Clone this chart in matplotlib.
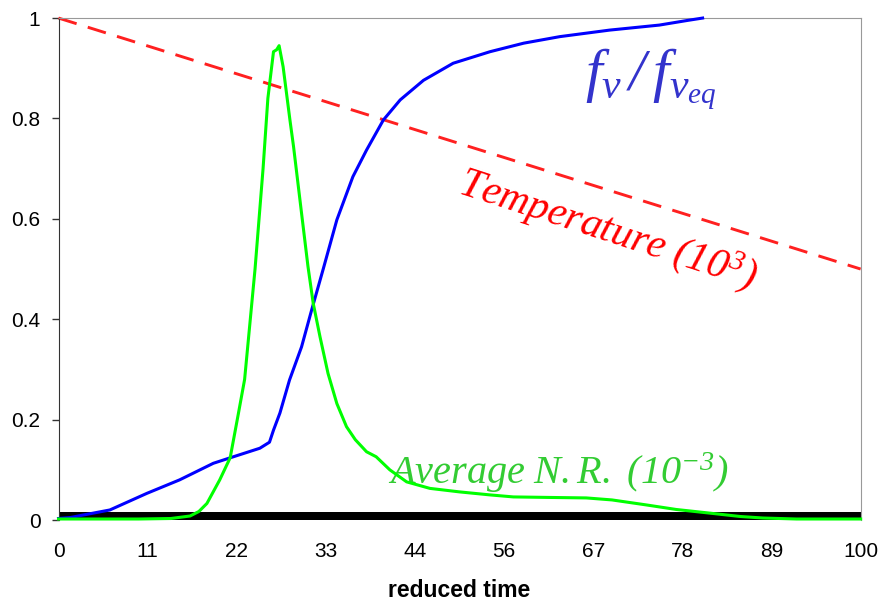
"""Reduced-time evolution of f_v/f_veq, temperature and average N.R."""
import numpy as np
import matplotlib
matplotlib.use("Agg")
import matplotlib.pyplot as plt

# --- data ------------------------------------------------------------------ #
TIME_TICKS = np.linspace(0, 100, 10)

FV_T = [0, 1.5, 3.1, 6.4, 11.0, 15.1, 19.3, 21.8, 25.1, 26.3, 26.8, 27.6, 28.8,
        30.3, 31.55, 33.0, 34.7, 36.7, 38.4, 40.5, 42.6, 45.5, 49.2, 53.8, 58.0,
        62.5, 68.7, 74.9, 78.3, 80.3]
FV = [0.003, 0.005, 0.010, 0.020, 0.053, 0.080, 0.113, 0.126, 0.143, 0.155,
      0.179, 0.213, 0.279, 0.345, 0.418, 0.500, 0.598, 0.684, 0.737, 0.797,
      0.837, 0.876, 0.910, 0.933, 0.950, 0.963, 0.976, 0.986, 0.995, 1.000]

NR_T = [0, 5, 10, 14, 16.4, 17.5, 18.5, 20.1, 21.4, 22.4, 23.2, 24.5, 25.5, 26.1,
        26.8, 27.2, 27.5, 28.0, 28.85, 29.3, 30.3, 31.1, 31.75, 32.6, 33.6, 34.7,
        35.9, 37.0, 38.4, 39.6, 41.3, 43.4, 46.3, 50.0, 53.8, 56.7, 61.0, 65.8,
        69.0, 73.3, 77.0, 81.6, 85.0, 87.8, 92.0, 100]
NR = [0.002, 0.002, 0.002, 0.003, 0.008, 0.017, 0.033, 0.080, 0.124, 0.210,
      0.280, 0.500, 0.700, 0.840, 0.933, 0.937, 0.945, 0.903, 0.797, 0.744,
      0.611, 0.505, 0.432, 0.365, 0.292, 0.232, 0.186, 0.160, 0.136, 0.126,
      0.100, 0.076, 0.063, 0.056, 0.050, 0.046, 0.045, 0.044, 0.040, 0.030,
      0.021, 0.013, 0.007, 0.004, 0.002, 0.002]

TEMP_T = [0, 100]
TEMP = [1.0, 0.5]

BLUE, GREEN, RED = "#0000ff", "#00ff00", "#ff2020"

plt.rcParams.update({
    "font.family": ["Liberation Sans", "DejaVu Sans"],
    "font.size": 15,
    "mathtext.fontset": "custom",
    "mathtext.rm": "Liberation Serif:italic",
    "mathtext.it": "Liberation Serif:italic",
    "mathtext.default": "it",
})


def main():
    fig = plt.figure(figsize=(8.8, 6.02), dpi=100)
    ax = fig.add_axes([0.0665, 0.1362, 0.9115, 0.8338])

    ax.axhspan(0, 0.016, color="black", zorder=1, lw=0)
    ax.plot(TEMP_T, TEMP, color=RED, lw=2.1, dashes=(6.5, 4), zorder=2, clip_on=False)
    ax.plot(FV_T, FV, color=BLUE, lw=2.2, zorder=3, clip_on=False)
    ax.plot(NR_T, NR, color=GREEN, lw=2.2, zorder=4, clip_on=False)

    ax.text(73.9, 0.878, r"$f_v\,/\,f_{v_{eq}}$", color="#3333cc", fontsize=43,
            ha="center", va="center")
    ax.text(68.5, 0.578, r"$Temperature\ (10^3)$", color="#ff0000",
            fontsize=30, ha="center", va="center", rotation=-18)
    ax.text(62.3, 0.094, r"$Average\ N.R.\ (10^{-3})$", color="#33cc33",
            fontsize=29, ha="center", va="center")

    ax.set_xlim(0, 100)
    ax.set_ylim(0, 1)
    ax.set_xticks(TIME_TICKS, [f"{t:.0f}" for t in TIME_TICKS])
    ax.set_yticks([0, 0.2, 0.4, 0.6, 0.8, 1.0], ["0", "0.2", "0.4", "0.6", "0.8", "1"])
    ax.tick_params(axis="x", length=0, pad=16)
    ax.tick_params(axis="y", length=5, width=1, color="#333333", pad=8)
    ax.set_xlabel("reduced time", fontweight="bold", fontsize=16.5, labelpad=13)

    for side in ("top", "right"):
        ax.spines[side].set_color("#999999")
    ax.spines["left"].set_color("#333333")
    ax.spines["bottom"].set_visible(False)

    fig.savefig("out.png", dpi=100)
    plt.close(fig)


if __name__ == "__main__":
    main()
